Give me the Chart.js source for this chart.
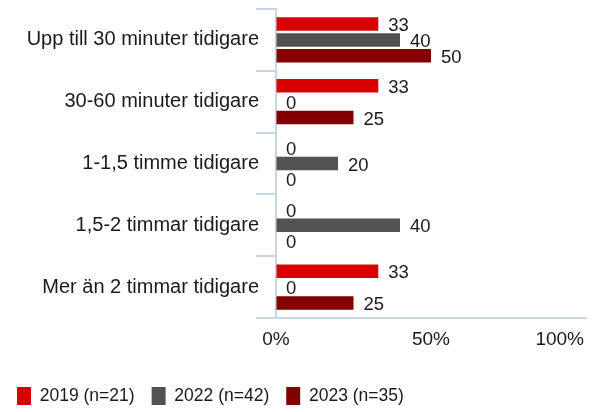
<!DOCTYPE html>
<html>
<head>
<meta charset="utf-8">
<script src="https://cdn.jsdelivr.net/npm/chart.js@4/dist/chart.umd.min.js"></script>
<style>
  html, body { margin: 0; padding: 0; background: #fff; }
  #wrap { width: 595px; height: 412px; }
</style>
</head>
<body>
<div id="wrap"><canvas id="chart"></canvas></div>
<script>
const categories = [
    'Upp till 30 minuter tidigare',
    '30-60 minuter tidigare',
    '1-1,5 timme tidigare',
    '1,5-2 timmar tidigare',
    'Mer än 2 timmar tidigare'
];
const seriesNames = ['2019 (n=21)', '2022 (n=42)', '2023 (n=35)'];
const values2019 = [33, 33, 0, 0, 33];
const values2022 = [40, 0, 20, 40, 0];
const values2023 = [50, 25, 0, 0, 25];
const xTicks = [0, 50, 100];

const colors = ['#d90000', '#525252', '#820000'];
const axisColor = '#c6d5e8';
const fontFamily = '"Liberation Sans", Arial, sans-serif';
const textColor = '#1a1a1a';

// draws value labels right of each bar end
const valueLabels = {
    id: 'valueLabels',
    afterDatasetsDraw(chart) {
        const ctx = chart.ctx;
        ctx.save();
        ctx.font = '18.5px ' + fontFamily;
        ctx.fillStyle = textColor;
        ctx.textAlign = 'left';
        ctx.textBaseline = 'middle';
        chart.data.datasets.forEach((ds, i) => {
            chart.getDatasetMeta(i).data.forEach((bar, j) => {
                ctx.fillText(String(ds.data[j]), bar.x + 10, bar.y + 2);
            });
        });
        ctx.restore();
    }
};

// keep the last x label ("100%") inside the canvas, right aligned
const lastLabelInside = {
    id: 'lastLabelInside',
    afterUpdate(chart) {
        const scale = chart.scales.x;
        const items = scale.getLabelItems(chart.chartArea);
        const last = items[items.length - 1];
        if (last) {
            last.options.textAlign = 'right';
            last.options.translation[0] = scale.right - 2;
        }
    }
};

const datasets = [values2019, values2022, values2023].map((vals, i) => ({
    label: seriesNames[i],
    data: vals,
    backgroundColor: colors[i],
    categoryPercentage: 0.77,
    barPercentage: 0.85
}));

new Chart(document.getElementById('chart'), {
    type: 'bar',
    data: { labels: categories, datasets: datasets },
    plugins: [valueLabels, lastLabelInside],
    options: {
        indexAxis: 'y',
        responsive: true,
        maintainAspectRatio: false,
        animation: false,
        layout: { padding: { top: 6, right: 9, left: 0, bottom: -3 } },
        plugins: {
            legend: {
                position: 'bottom',
                align: 'start',
                labels: {
                    boxWidth: 14,
                    boxHeight: 18,
                    padding: 17,
                    color: textColor,
                    font: { family: fontFamily, size: 17.5 }
                }
            },
            tooltip: { enabled: false }
        },
        scales: {
            x: {
                min: 0,
                max: 100,
                afterBuildTicks(scale) {
                    scale.ticks = xTicks.map(v => ({ value: v }));
                },
                grid: { drawOnChartArea: false, drawTicks: false },
                border: { color: axisColor, width: 2 },
                ticks: {
                    padding: 10,
                    color: textColor,
                    font: { family: fontFamily, size: 19 },
                    callback: v => v + '%'
                },
                afterFit(scale) {
                    scale.height = 52;
                    scale.paddingRight = 0;
                }
            },
            y: {
                grid: {
                    drawOnChartArea: false,
                    color: axisColor,
                    lineWidth: 2,
                    tickLength: 20,
                    offset: true
                },
                border: { color: axisColor, width: 2 },
                ticks: {
                    padding: -3,
                    color: textColor,
                    font: { family: fontFamily, size: 20 }
                },
                afterFit(scale) { scale.width = 276; }
            }
        }
    }
});
</script>
</body>
</html>
